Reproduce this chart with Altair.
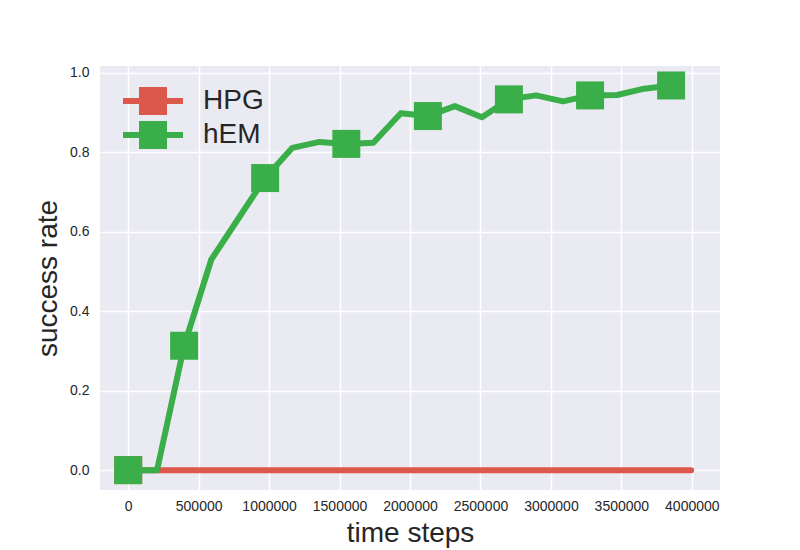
import altair as alt
import pandas as pd

# ---- data ----
hem_x = [0, 205000, 397000, 590000, 780000, 972000, 1165000, 1357000, 1548000,
         1740000, 1935000, 2127000, 2318000, 2510000, 2702000, 2894000, 3086000,
         3278000, 3470000, 3662000, 3853000]
hem_y = [0.0, 0.0, 0.313, 0.530, 0.632, 0.735, 0.811, 0.826, 0.821, 0.824,
         0.898, 0.891, 0.916, 0.888, 0.933, 0.943, 0.928, 0.943, 0.944, 0.960, 0.968]
hem_marker_idx = [0, 2, 5, 8, 11, 14, 17, 20]

hpg_x = [0, 500000, 1000000, 1500000, 2000000, 2500000, 3000000, 3500000, 3995000]
hpg_y = [0.0, 0.0, 0.0, 0.0, 0.0, 0.0, 0.0, 0.0, 0.0]
hpg_marker_idx = [0]

series_names = ["HPG", "hEM"]
series_colors = ["#DC574C", "#3AAE48"]

x_ticks = [0, 500000, 1000000, 1500000, 2000000, 2500000, 3000000, 3500000, 4000000]
y_ticks = [0.0, 0.2, 0.4, 0.6, 0.8, 1.0]

hem = pd.DataFrame({"t": hem_x, "rate": hem_y, "series": "hEM"})
hpg = pd.DataFrame({"t": hpg_x, "rate": hpg_y, "series": "HPG"})
hem_m = hem.iloc[hem_marker_idx]
hpg_m = hpg.iloc[hpg_marker_idx]

FONT = "Liberation Sans"
TXT = "#262626"

xs = alt.Scale(domain=[-200000, 4200000], nice=False, zero=False)
ys = alt.Scale(domain=[-0.05, 1.017], nice=False, zero=False)

xenc = alt.X("t:Q", scale=xs, title="time steps",
             axis=alt.Axis(values=x_ticks, format="d", labelFontSize=14,
                           titleFontSize=28, labelPadding=9, titlePadding=6,
                           labelFlush=False))
yenc = alt.Y("rate:Q", scale=ys, title="success rate",
             axis=alt.Axis(values=y_ticks, format=".1f", labelFontSize=14,
                           titleFontSize=28, labelPadding=11, titlePadding=7))

color_scale = alt.Scale(domain=series_names, range=series_colors)

legend = alt.Legend(
    title=None, orient="none", legendX=33, legendY=15, padding=0,
    symbolType="M-1.5,-0.15L1.5,-0.15L1.5,0.15L-1.5,0.15Z M-0.7,-0.7L0.7,-0.7L0.7,0.7L-0.7,0.7Z",
    symbolSize=1600, symbolStrokeWidth=0, labelFontSize=28, labelFont=FONT,
    labelColor=TXT, labelOffset=30, rowPadding=0, fillColor=None, strokeColor=None,
)

def line(df, col):
    return alt.Chart(df).mark_line(color=col, strokeWidth=6, strokeCap="round",
                                   strokeJoin="round").encode(x=xenc, y=yenc)

def pts(df):
    return alt.Chart(df).mark_point(shape="square", filled=True, size=784,
                                    opacity=1, strokeWidth=0).encode(
        x=xenc, y=yenc,
        color=alt.Color("series:N", scale=color_scale, legend=legend))

chart = alt.layer(
    line(hpg, series_colors[0]), pts(hpg_m),
    line(hem, series_colors[1]), pts(hem_m),
).properties(
    width=620, height=424,
    padding={"left": 92, "top": 58, "right": 40, "bottom": 60},
    autosize=alt.AutoSizeParams(type="none"),
    background="white",
).configure_view(
    fill="#EAEAF2", stroke=None
).configure_axis(
    domain=False, ticks=False, grid=True, gridColor="white", gridWidth=1.5,
    labelFont=FONT, titleFont=FONT, labelColor=TXT, titleColor=TXT,
    titleFontWeight="normal",
)

chart.save("out.html", embed_options={"renderer": "svg", "actions": False})
